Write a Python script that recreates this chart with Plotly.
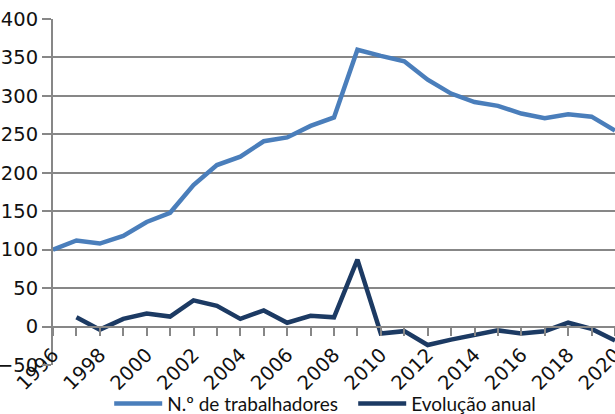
import plotly.graph_objects as go

years = list(range(1996, 2021))
trabalhadores = [100, 112, 108, 118, 136, 148, 184, 210, 221, 241, 246, 261, 272,
                 360, 352, 345, 321, 303, 292, 287, 277, 271, 276, 273, 255]
evo_years = list(range(1997, 2021))
evolucao = [12, -4, 10, 17, 13, 34, 27, 10, 21, 5, 14, 12, 87, -9, -6, -24, -17,
            -11, -5, -9, -6, 5, -3, -18]
tick_years = list(range(1996, 2021))
tick_text = [str(y) if y % 2 == 0 else "" for y in tick_years]
y_ticks = [-50, 0, 50, 100, 150, 200, 250, 300, 350, 400]

GRAY = "#878787"
BLUE = "#4A7EBB"
DARK = "#1C3A63"

fig = go.Figure()
fig.add_trace(go.Scatter(x=years, y=trabalhadores, mode="lines", name="N.º de trabalhadores",
                         line=dict(color=BLUE, width=4.5)))
fig.add_trace(go.Scatter(x=evo_years, y=evolucao, mode="lines", name="Evolução anual",
                         line=dict(color=DARK, width=4.5)))

ymin, ymax = -50, 400
fig.update_layout(
    width=615, height=414,
    margin=dict(l=53, r=0, t=19, b=49, autoexpand=False),
    paper_bgcolor="white", plot_bgcolor="white",
    font=dict(family="DejaVu Sans", size=19.5, color="#111111"),
    showlegend=True,
    legend=dict(orientation="h", x=0.1, xanchor="left", y=-0.112, yanchor="middle",
                font=dict(family="Lato", size=19, color="#111111"),
                itemwidth=48, entrywidth=181,
                bgcolor="rgba(0,0,0,0)"),
    xaxis=dict(range=[1996, 2020], tickvals=tick_years, ticktext=tick_text,
               tickangle=-45, showgrid=False, zeroline=False, automargin=False,
               ticklabeloverflow="allow",
               showline=True, linecolor=GRAY, linewidth=2,
               ticks="outside", ticklen=8, tickcolor=GRAY, tickwidth=2,
               anchor="free", position=(0 - ymin) / (ymax - ymin),
               tickfont=dict(family="DejaVu Sans", size=19.5)),
    yaxis=dict(range=[ymin, ymax], tickvals=y_ticks, showgrid=True, gridcolor=GRAY,
               gridwidth=2, zeroline=False, showline=True, linecolor=GRAY, linewidth=2,
               automargin=False, ticklabeloverflow="allow",
               ticks="outside", ticklen=9, tickcolor=GRAY, tickwidth=2,
               tickfont=dict(family="DejaVu Sans", size=19.5)),
)

fig.write_html("out.html", config={"displayModeBar": False},
               post_script="document.body.style.margin='0';")
